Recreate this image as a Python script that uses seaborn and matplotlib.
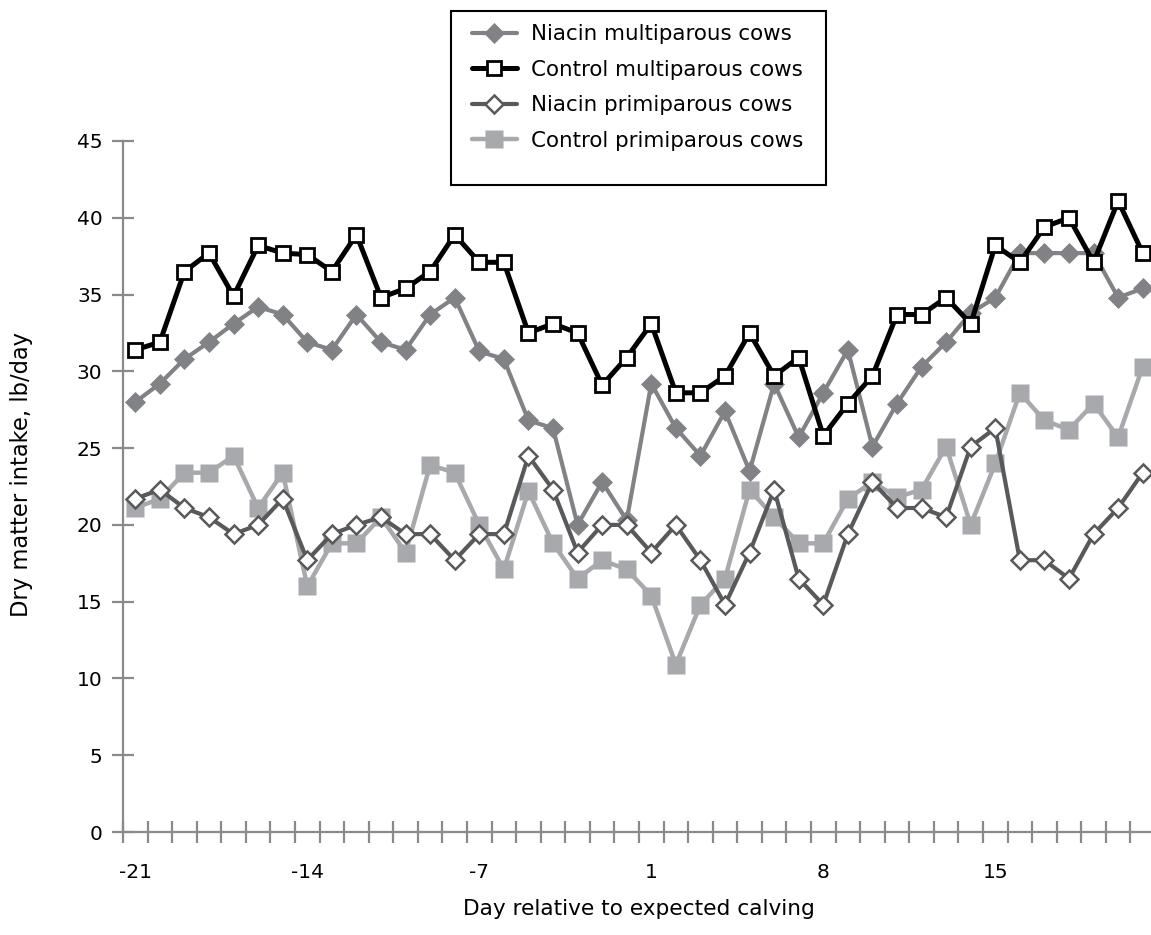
import numpy as np
import pandas as pd
import seaborn as sns
import matplotlib.pyplot as plt
from matplotlib.patches import Rectangle

# days -21..-1 then 1..21 (no day 0)
days = list(range(-21, 0)) + list(range(1, 22))
tick_days = ["-21", "-14", "-7", "1", "8", "15"]

niacin_multi = [28.0, 29.2, 30.8, 31.9, 33.1, 34.2, 33.7, 31.9, 31.4, 33.7, 31.9, 31.4, 33.7, 34.8,
                31.3, 30.8, 26.8, 26.3, 20.0, 22.8, 20.3, 29.2, 26.3, 24.5, 27.4, 23.5, 29.2, 25.7,
                28.6, 31.4, 25.1, 27.9, 30.3, 31.9, 33.8, 34.8, 37.7, 37.7, 37.7, 37.7, 34.8, 35.4]
control_multi = [31.4, 31.9, 36.5, 37.7, 34.9, 38.2, 37.7, 37.6, 36.5, 38.9, 34.8, 35.4, 36.5, 38.9,
                 37.1, 37.1, 32.5, 33.1, 32.5, 29.1, 30.9, 33.1, 28.6, 28.6, 29.7, 32.5, 29.7, 30.9,
                 25.8, 27.9, 29.7, 33.7, 33.7, 34.8, 33.1, 38.2, 37.1, 39.4, 40.0, 37.1, 41.1, 37.7]
niacin_primi = [21.7, 22.3, 21.1, 20.5, 19.4, 20.0, 21.7, 17.7, 19.4, 20.0, 20.5, 19.4, 19.4, 17.7,
                19.4, 19.4, 24.5, 22.3, 18.2, 20.0, 20.0, 18.2, 20.0, 17.7, 14.8, 18.2, 22.3, 16.5,
                14.8, 19.4, 22.8, 21.1, 21.1, 20.5, 25.1, 26.3, 17.7, 17.7, 16.5, 19.4, 21.1, 23.4]
control_primi = [21.1, 21.7, 23.4, 23.4, 24.5, 21.1, 23.4, 16.0, 18.8, 18.8, 20.5, 18.2, 23.9, 23.4,
                 20.0, 17.1, 22.2, 18.8, 16.5, 17.7, 17.1, 15.4, 10.9, 14.8, 16.5, 22.3, 20.5, 18.8,
                 18.8, 21.7, 22.8, 21.8, 22.3, 25.1, 20.0, 24.0, 28.6, 26.8, 26.2, 27.9, 25.7, 30.3]

df = pd.DataFrame({
    "pos": np.arange(len(days)),
    "day": days,
    "niacin_multi": niacin_multi,
    "control_multi": control_multi,
    "niacin_primi": niacin_primi,
    "control_primi": control_primi,
})

sns.set_style("white")
plt.rcParams["font.family"] = ["DejaVu Sans"]
plt.rcParams["text.color"] = "black"
plt.rcParams["axes.labelcolor"] = "black"

axis_grey = "#8a8a8c"

W, H = 1151, 935
fig = plt.figure(figsize=(W / 100, H / 100), dpi=100)
ax = fig.add_axes([123 / W, 1 - 832 / H, 1032 / W, 691 / H])

# drawn bottom to top
sns.lineplot(data=df, x="pos", y="control_primi", ax=ax, color="#a7a9ac", lw=3.2,
             marker="s", ms=13.5, mec="none", label="Control primiparous cows",
             sort=False, zorder=2, clip_on=False)
sns.lineplot(data=df, x="pos", y="niacin_multi", ax=ax, color="#808285", lw=3.0,
             marker="D", ms=10, mec="#808285", mew=0.5, label="Niacin multiparous cows",
             sort=False, zorder=3, clip_on=False)
sns.lineplot(data=df, x="pos", y="niacin_primi", ax=ax, color="#58595b", lw=3.0,
             marker="D", ms=9.5, mfc="white", mec="#58595b", mew=1.8,
             label="Niacin primiparous cows", sort=False, zorder=4, clip_on=False)
sns.lineplot(data=df, x="pos", y="control_multi", ax=ax, color="black", lw=3.6,
             marker="s", ms=10.5, mfc="white", mec="black", mew=2.0,
             label="Control multiparous cows", sort=False, zorder=5, clip_on=False)

handles, labels = ax.get_legend_handles_labels()
ax.get_legend().remove()

ax.set_xlim(-0.5, len(days) - 0.5)
ax.set_ylim(0, 45)

ax.set_xticks(np.arange(0, len(days), 7))
ax.set_xticklabels(tick_days)
ax.set_xticks(np.arange(-0.5, len(days), 1), minor=True)
ax.set_yticks(np.arange(0, 46, 5))

ax.tick_params(axis="x", which="major", bottom=True, length=0, pad=22, labelsize=14.5,
               labelcolor="black")
ax.tick_params(axis="x", which="minor", bottom=True, direction="inout", length=15.5,
               width=1.6, color=axis_grey)
ax.tick_params(axis="y", which="major", left=True, direction="inout", length=15.5, width=1.6,
               color=axis_grey, pad=7, labelsize=14.5, labelcolor="black")

for side in ["top", "right"]:
    ax.spines[side].set_visible(False)
for side in ["left", "bottom"]:
    ax.spines[side].set_color(axis_grey)
    ax.spines[side].set_linewidth(1.6)

ax.set_xlabel("Day relative to expected calving", fontsize=15.6, color="black")
ax.set_ylabel("Dry matter intake, lb/day", fontsize=16.3, color="black")
ax.xaxis.set_label_coords(0.5, -0.097)
ax.yaxis.set_label_coords(-0.087, 0.517)

order = ["Niacin multiparous cows", "Control multiparous cows",
         "Niacin primiparous cows", "Control primiparous cows"]
hmap = dict(zip(labels, handles))
leg = fig.legend([hmap[l] for l in order], order, loc="upper left",
                 bbox_to_anchor=(472 / W, 1 - 24.5 / H), frameon=False, borderpad=0,
                 borderaxespad=0, fontsize=15.4, handlelength=2.1, handletextpad=0.65,
                 labelspacing=0.72, numpoints=1, labelcolor="black")

# legend box
fig.patches.append(Rectangle((451 / W, 1 - 185 / H), (826 - 451) / W, (185 - 11) / H,
                             transform=fig.transFigure, fill=False, ec="black", lw=1.5))

fig.savefig("out.png", dpi=100)
